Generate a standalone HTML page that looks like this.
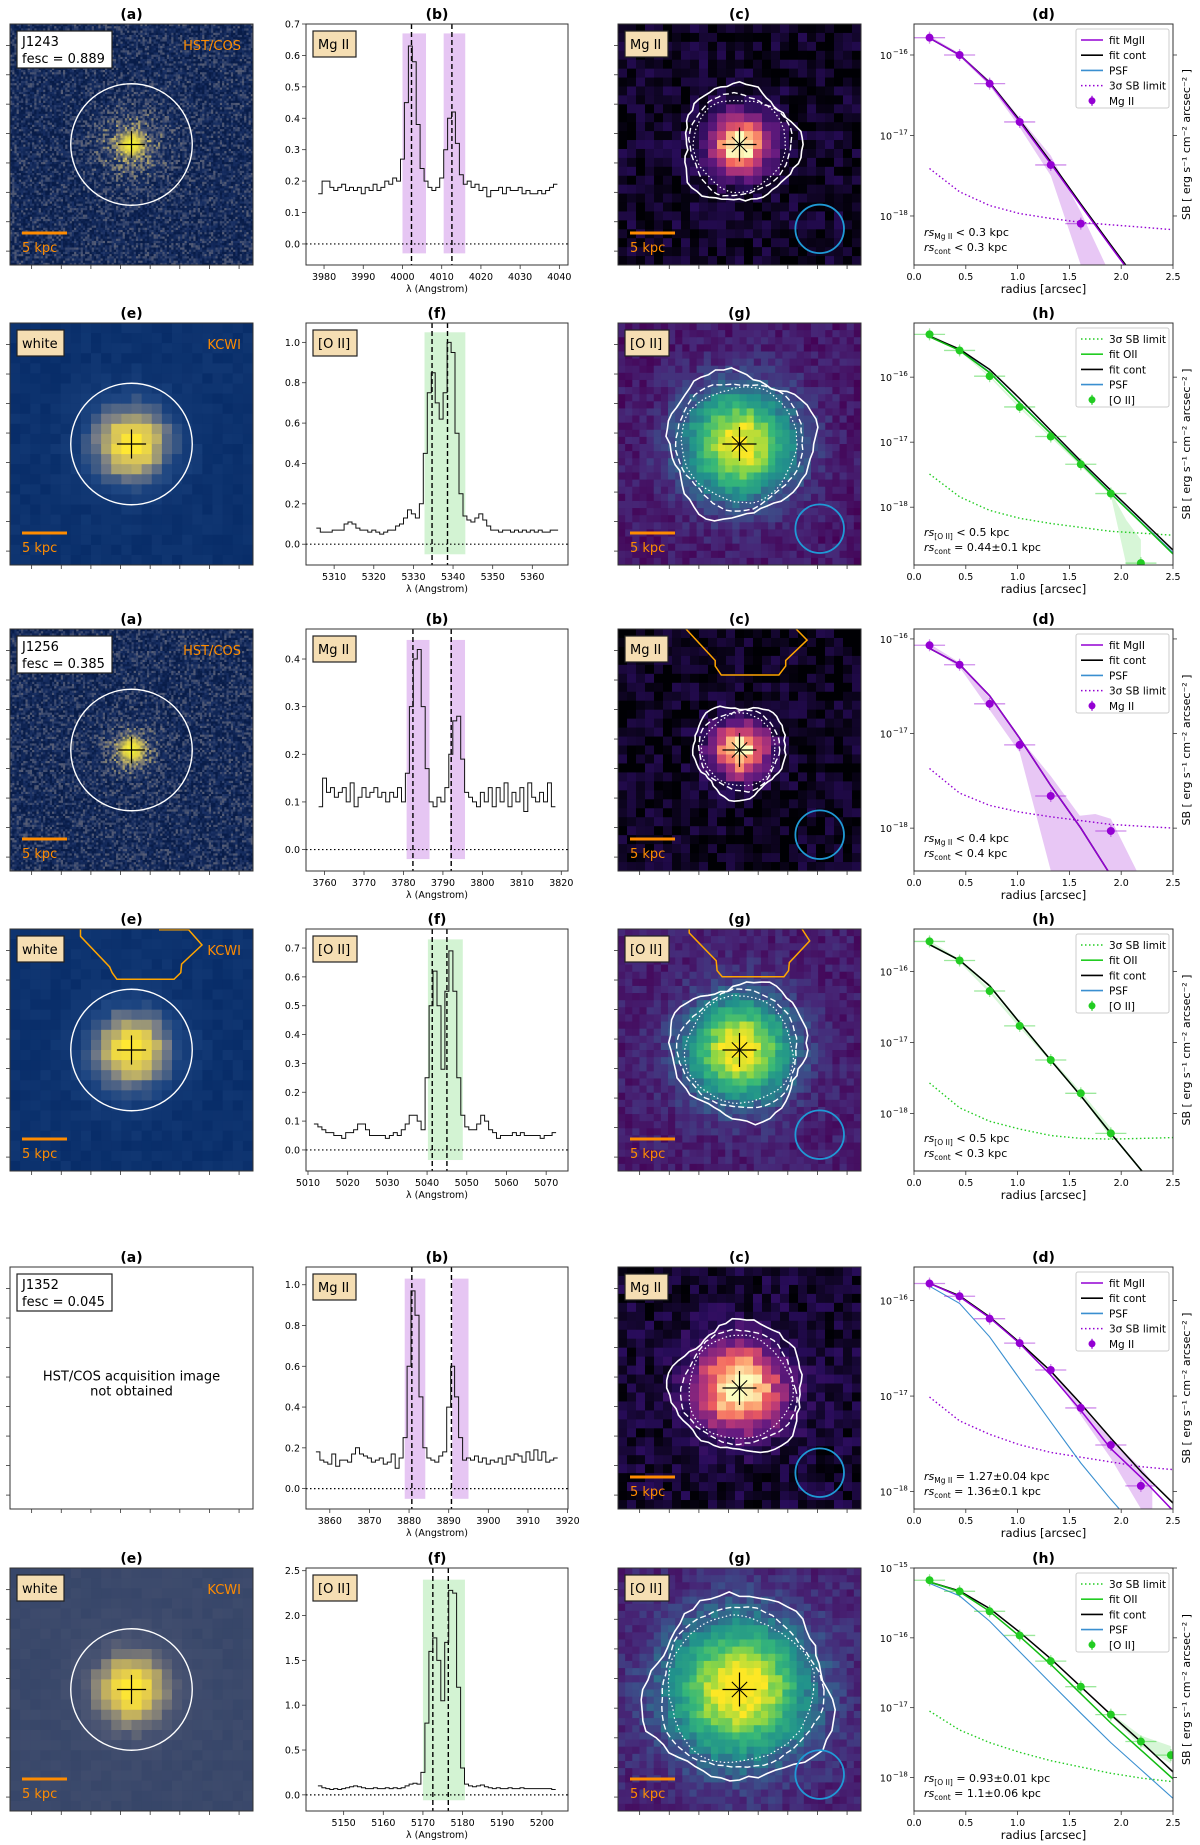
<!DOCTYPE html>
<html><head><meta charset="utf-8">
<style>
html,body{margin:0;padding:0;background:#fff;}
svg{display:block;font-family:"DejaVu Sans","Liberation Sans",sans-serif;}
</style></head>
<body>
<svg id="fig" width="1200" height="1845" viewBox="0 0 1200 1845" xmlns="http://www.w3.org/2000/svg">
<defs id="defs"></defs>
</svg>
<script>
// ---------- spectra data (flux per 1 Angstrom bin, starting wavelength) ----------
const specStart = [3979, 5306, 3759, 5012, 3857, 5144];
const flux0 = [0.16,0.20,0.20,0.18,0.17,0.18,0.19,0.17,0.18,0.17,0.18,0.16,0.18,0.17,0.19,0.17,0.18,0.20,0.19,0.21,0.20,0.27,0.45,0.63,0.58,0.38,0.24,0.20,0.18,0.17,0.18,0.21,0.30,0.40,0.42,0.32,0.22,0.19,0.20,0.18,0.19,0.17,0.18,0.15,0.17,0.17,0.18,0.16,0.18,0.17,0.17,0.18,0.16,0.17,0.16,0.16,0.17,0.16,0.17,0.18,0.19];
const flux1 = [0.08,0.06,0.06,0.06,0.07,0.07,0.07,0.10,0.11,0.10,0.08,0.07,0.07,0.06,0.07,0.06,0.05,0.06,0.07,0.07,0.09,0.10,0.13,0.17,0.15,0.13,0.20,0.45,0.75,0.85,0.70,0.62,0.75,1.00,0.95,0.55,0.25,0.14,0.12,0.11,0.13,0.15,0.12,0.09,0.07,0.07,0.06,0.07,0.07,0.06,0.07,0.06,0.07,0.06,0.07,0.06,0.07,0.06,0.06,0.07,0.07];
const flux2 = [0.09,0.15,0.12,0.13,0.11,0.12,0.13,0.10,0.14,0.09,0.11,0.13,0.11,0.12,0.13,0.11,0.12,0.10,0.12,0.11,0.13,0.10,0.16,0.30,0.40,0.42,0.30,0.17,0.10,0.09,0.11,0.10,0.13,0.20,0.27,0.28,0.19,0.12,0.11,0.10,0.09,0.12,0.10,0.13,0.09,0.13,0.10,0.14,0.09,0.12,0.10,0.13,0.08,0.14,0.11,0.10,0.12,0.10,0.14,0.09];
const flux3 = [0.09,0.08,0.07,0.06,0.06,0.05,0.05,0.04,0.06,0.06,0.07,0.09,0.09,0.07,0.05,0.05,0.05,0.05,0.04,0.05,0.06,0.05,0.07,0.09,0.12,0.12,0.10,0.07,0.25,0.50,0.62,0.50,0.28,0.55,0.69,0.55,0.25,0.12,0.08,0.07,0.07,0.09,0.12,0.10,0.07,0.06,0.04,0.05,0.05,0.05,0.06,0.05,0.06,0.05,0.05,0.05,0.05,0.04,0.05,0.05,0.06];
const flux4 = [0.18,0.14,0.13,0.12,0.17,0.11,0.14,0.14,0.13,0.17,0.20,0.17,0.16,0.15,0.13,0.14,0.15,0.12,0.13,0.17,0.10,0.15,0.25,0.60,0.97,0.85,0.45,0.20,0.15,0.14,0.13,0.16,0.18,0.40,0.60,0.45,0.25,0.14,0.15,0.14,0.16,0.13,0.15,0.12,0.14,0.13,0.15,0.12,0.16,0.14,0.17,0.16,0.13,0.18,0.14,0.19,0.14,0.18,0.13,0.14,0.15];
const flux5 = [0.10,0.08,0.07,0.06,0.07,0.06,0.07,0.08,0.09,0.10,0.09,0.08,0.07,0.07,0.08,0.07,0.07,0.08,0.07,0.08,0.07,0.08,0.10,0.12,0.13,0.12,0.25,0.80,1.60,1.75,1.50,1.05,1.70,2.28,2.25,1.20,0.30,0.12,0.10,0.09,0.10,0.11,0.09,0.08,0.07,0.08,0.07,0.07,0.08,0.07,0.07,0.08,0.07,0.07,0.07,0.07,0.07,0.07,0.07,0.06];
const fluxes = [flux0, flux1, flux2, flux3, flux4, flux5];
const lineCenters = [[4002.3,4012.6],[5334.7,5338.6],[3782.4,3792.1],[5041.3,5045.0],[3880.7,3890.7],[5172.5,5176.4]];
const shadeWin = [[[4000,4006],[4010.5,4016]],[[5332.8,5343.1]],[[3780.8,3786.6],[3791.8,3795.6]],[[5040.2,5049.0]],[[3878.9,3884.1],[3890.9,3895.0]],[[5170,5180.6]]];
const shadeY = [[-0.03,0.67],[-0.05,1.05],[-0.02,0.44],[-0.035,0.73],[-0.05,1.03],[-0.06,2.4]];
const specXRange = [[3975.4,4042.2],[5302.9,5369],[3755.3,3821.7],[5009.5,5075.5],[3854,3920.1],[5140.5,5206.6]];
const specYRange = [[-0.067,0.7],[-0.103,1.096],[-0.045,0.463],[-0.073,0.766],[-0.10,1.087],[-0.18,2.53]];
const specXTicks = [[3980,3990,4000,4010,4020,4030,4040],[5310,5320,5330,5340,5350,5360],[3760,3770,3780,3790,3800,3810,3820],[5010,5020,5030,5040,5050,5060,5070],[3860,3870,3880,3890,3900,3910,3920],[5150,5160,5170,5180,5190,5200]];
const specYTicks = [[0,0.1,0.2,0.3,0.4,0.5,0.6,0.7],[0,0.2,0.4,0.6,0.8,1.0],[0,0.1,0.2,0.3,0.4],[0,0.1,0.2,0.3,0.4,0.5,0.6,0.7],[0,0.2,0.4,0.6,0.8,1.0],[0,0.5,1.0,1.5,2.0,2.5]];

// ---------- surface-brightness profile data (log10 SB) ----------
const sbR = [0.15,0.44,0.73,1.02,1.32,1.61,1.90,2.19,2.48];
const sbPts0 = [-15.785,-16.0,-16.356,-16.832,-17.366,-18.095,null,null,null];
const sbPts1 = [-15.342,-15.589,-15.985,-16.458,-16.913,-17.34,-17.79,-18.86,null];
const sbPts2 = [-16.067,-16.273,-16.686,-17.12,-17.66,null,-18.03,null,null];
const sbPts3 = [-15.575,-15.844,-16.274,-16.765,-17.246,-17.715,-18.28,null,null];
const sbPts4 = [-15.822,-15.955,-16.19,-16.446,-16.727,-17.124,-17.512,-17.94,null];
const sbPts5 = [-15.175,-15.334,-15.62,-15.966,-16.334,-16.70,-17.10,-17.485,-17.68];
const sbPts = [sbPts0,sbPts1,sbPts2,sbPts3,sbPts4,sbPts5];
const fitR = [0.15,0.44,0.73,1.02,1.32,1.61,1.90,2.20,2.50];
const fitLine0 = [-15.79,-16.0,-16.35,-16.83,-17.35,-17.87,-18.38,-18.90,-19.4];
const fitLine1 = [-15.38,-15.59,-15.93,-16.40,-16.87,-17.33,-17.79,-18.25,-18.72];
const fitLine2 = [-16.1,-16.27,-16.6,-17.05,-17.55,-18.0,-18.5,-19.0,-19.5];
const fitLine3 = [-15.62,-15.84,-16.2,-16.72,-17.25,-17.75,-18.28,-18.81,-19.3];
const fitLine4 = [-15.82,-15.96,-16.18,-16.45,-16.78,-17.15,-17.55,-17.86,-18.2];
const fitLine5 = [-15.2,-15.34,-15.62,-15.98,-16.38,-16.8,-17.22,-17.62,-18.02];
const fitLines = [fitLine0,fitLine1,fitLine2,fitLine3,fitLine4,fitLine5];
const fitCont0 = [-15.79,-16.0,-16.34,-16.81,-17.33,-17.85,-18.36,-18.88,-19.4];
const fitCont1 = [-15.37,-15.57,-15.88,-16.33,-16.82,-17.29,-17.74,-18.2,-18.66];
const fitCont2 = [-16.1,-16.27,-16.6,-17.05,-17.55,-18.0,-18.5,-19.0,-19.5];
const fitCont3 = [-15.62,-15.84,-16.2,-16.72,-17.25,-17.75,-18.28,-18.81,-19.3];
const fitCont4 = [-15.82,-15.95,-16.17,-16.44,-16.74,-17.08,-17.44,-17.8,-18.12];
const fitCont5 = [-15.2,-15.33,-15.58,-15.92,-16.3,-16.7,-17.1,-17.5,-17.92];
const fitConts = [fitCont0,fitCont1,fitCont2,fitCont3,fitCont4,fitCont5];
const psf0 = [-15.79,-16.0,-16.34,-16.81,-17.33,-17.85,-18.36,-18.88,-19.4];
const psf1 = [-15.38,-15.58,-15.92,-16.39,-16.86,-17.32,-17.78,-18.24,-18.7];
const psf2 = [-16.1,-16.27,-16.6,-17.05,-17.55,-18.0,-18.5,-19.0,-19.5];
const psf3 = [-15.62,-15.84,-16.2,-16.72,-17.25,-17.75,-18.28,-18.81,-19.3];
const psf4 = [-15.85,-16.03,-16.38,-16.82,-17.27,-17.70,-18.08,-18.45,-18.8];
const psf5 = [-15.22,-15.40,-15.76,-16.20,-16.65,-17.08,-17.5,-17.9,-18.3];
const psfs = [psf0,psf1,psf2,psf3,psf4,psf5];
const sbLim0 = [-17.41,-17.70,-17.87,-17.97,-18.03,-18.08,-18.11,-18.14,-18.17];
const sbLim1 = [-17.49,-17.84,-18.05,-18.17,-18.25,-18.31,-18.37,-18.40,-18.43];
const sbLim2 = [-17.37,-17.63,-17.76,-17.83,-17.88,-17.92,-17.96,-17.98,-18.0];
const sbLim3 = [-17.57,-17.92,-18.11,-18.22,-18.31,-18.35,-18.36,-18.35,-18.34];
const sbLim4 = [-17.01,-17.26,-17.40,-17.51,-17.59,-17.64,-17.69,-17.74,-17.77];
const sbLim5 = [-17.05,-17.32,-17.50,-17.64,-17.76,-17.85,-17.94,-18.01,-18.06];
const sbLims = [sbLim0,sbLim1,sbLim2,sbLim3,sbLim4,sbLim5];
const bandR = [[0.15,0.44,0.73,1.02,1.32,1.61,1.85],[0.15,0.44,0.73,1.02,1.32,1.61,1.90,2.05,2.19],[0.15,0.44,0.73,1.02,1.32,1.6,1.75,1.9,2.15],[0.15,0.44,0.73,1.02,1.32,1.61,1.90],[1.32,1.61,1.90,2.19,2.3],[1.90,2.19,2.48]];
const bandHi = [[-15.76,-15.98,-16.32,-16.78,-17.25,-17.95,-18.61],[-15.33,-15.58,-15.97,-16.44,-16.9,-17.32,-17.77,-18.2,-18.5],[-16.05,-16.25,-16.62,-17.05,-17.45,-17.87,-17.85,-17.9,-18.45],[-15.56,-15.83,-16.25,-16.74,-17.22,-17.69,-18.2],[-16.72,-17.1,-17.45,-17.75,-17.9],[-17.08,-17.4,-17.55]];
const bandLo = [[-15.80,-16.02,-16.38,-16.90,-17.50,-18.61,-18.61],[-15.36,-15.60,-16.0,-16.48,-16.93,-17.37,-17.82,-18.89,-18.89],[-16.1,-16.3,-16.75,-17.2,-18.45,-18.45,-18.45,-18.45,-18.45],[-15.6,-15.87,-16.3,-16.79,-17.27,-17.74,-18.35],[-16.75,-17.2,-17.65,-18.18,-18.18],[-17.12,-17.55,-17.8]];
const sbYRange = [[-18.609,-15.615],[-18.889,-15.167],[-18.453,-15.895],[-18.81,-15.40],[-18.182,-15.649],[-18.48,-15.0]];
const sbYTicks = [[-16,-17,-18],[-16,-17,-18],[-16,-17,-18],[-16,-17,-18],[-16,-17,-18],[-15,-16,-17,-18]];
const sbXTicks = [0,0.5,1.0,1.5,2.0,2.5];

// ---------- layout ----------
const NS='http://www.w3.org/2000/svg';
const svg=document.getElementById('fig');
const defs=document.getElementById('defs');
const COLS={a:[10,253],b:[306,568],c:[618,861],d:[914,1173]};
const ROWS=[[24,265],[323,565],[629,871],[929,1171],[1267,1509],[1568,1811]];
const PURPLE='#9400d3', GREEN='#22cc22', PSFC='#3a8fd0', ORANGE='#ff8c00';

function mk(tag, attrs, parent){const e=document.createElementNS(NS,tag); for(const k in attrs) e.setAttribute(k,attrs[k]); (parent||svg).appendChild(e); return e;}
function nm(e, name, inter){
  
  
  return e;
}
function txt(str, attrs, parent){const t=mk('text',attrs,parent); t.textContent=str; return t;}

function title(label, col, row){
  const [x0,x1]=COLS[col]; const y0=ROWS[row][0];
  const t=txt('('+label+')',{x:(x0+x1)/2,y:y0-5,'text-anchor':'middle','font-size':14,'font-weight':'bold'});
  nm(t,'panel-title-'+label+'-row'+(row+1),false);
}

function hash(i,j,s){const v=Math.sin(i*127.1+j*311.7+s*74.7)*43758.5453; return v-Math.floor(v);}
function lerpC(stops,t){t=Math.max(0,Math.min(1,t)); for(let k=1;k<stops.length;k++){ if(t<=stops[k][0]){const a=stops[k-1],b=stops[k]; const f=(t-a[0])/(b[0]-a[0]); const c=[0,1,2].map(m=>Math.round(a[1][m]+(b[1][m]-a[1][m])*f)); return 'rgb('+c.join(',')+')';}} const l=stops[stops.length-1][1]; return 'rgb('+l.join(',')+')';}
const MAGMA=[[0,[0,0,4]],[0.2,[40,12,90]],[0.4,[100,26,128]],[0.6,[183,55,121]],[0.75,[241,96,93]],[0.88,[254,175,119]],[1,[252,253,191]]];
const VIRIDIS=[[0,[68,1,84]],[0.15,[70,40,120]],[0.3,[59,82,139]],[0.5,[33,145,140]],[0.7,[53,183,121]],[0.85,[144,215,67]],[1,[253,231,37]]];
const HSTMAP=[[0,[8,28,72]],[0.3,[25,48,100]],[0.55,[95,100,120]],[0.8,[190,175,100]],[1,[255,240,40]]];
const KCWIMAP=[[0,[8,45,105]],[0.3,[30,70,130]],[0.55,[120,125,135]],[0.8,[215,195,90]],[1,[255,232,50]]];
const WHITE2MAP=[[0,[55,70,105]],[0.3,[75,85,115]],[0.55,[140,135,120]],[0.8,[225,200,80]],[1,[255,232,50]]];

function panelBox(col,row){const [x0,x1]=COLS[col]; const [y0,y1]=ROWS[row]; return {x0,x1,y0,y1,w:x1-x0,h:y1-y0};}

function gridImage(g,b,n,cmap,sigma,amp,noise,base,seed){
  const cw=b.w/n, ch=b.h/n;
  for(let i=0;i<n;i++)for(let j=0;j<n;j++){
    const dx=(i+0.5)/n-0.5, dy=(j+0.5)/n-0.5;
    const gv=amp*Math.exp(-(dx*dx+dy*dy)/(2*sigma*sigma));
    const v=base+gv+noise*(hash(i,j,seed)-0.5);
    mk('rect',{x:(b.x0+i*cw).toFixed(2),y:(b.y0+j*ch).toFixed(2),width:(cw+0.6).toFixed(2),height:(ch+0.6).toFixed(2),fill:lerpC(cmap,v)},g);
  }
}
function imageTicks(g,b){
  for(let k=1;k<=8;k++){
    const x=b.x0+k*b.w/8.2-8; mk('line',{x1:x,y1:b.y1,x2:x,y2:b.y1+4,stroke:'#333','stroke-width':0.8},g);
    const y=b.y0+k*b.h/8.2-8; mk('line',{x1:b.x0,y1:y,x2:b.x0-4,y2:y,stroke:'#333','stroke-width':0.8},g);
  }
  mk('rect',{x:b.x0,y:b.y0,width:b.w,height:b.h,fill:'none',stroke:'#333','stroke-width':1},g);
}
function labelBox(g,b,str,wid,white){
  const r=mk('rect',{x:b.x0+7,y:b.y0+7,width:wid,height:26,fill:white?'#fff':'#f5deb3',stroke:'#222','stroke-width':1.2},g);
  nm(r,'label-box',false);
  const t=txt(str,{x:b.x0+12,y:b.y0+25,'font-size':13},g);
  nm(t,'label-text',false);
}
function scaleBar(g,b,len){
  const l=mk('line',{x1:b.x0+12,y1:b.y1-32,x2:b.x0+12+len,y2:b.y1-32,stroke:ORANGE,'stroke-width':3},g);
  nm(l,'scale-bar',false);
  const t=txt('5 kpc',{x:b.x0+12,y:b.y1-13,'font-size':13,fill:ORANGE},g);
  nm(t,'scale-bar-label',false);
}
function cross(g,cx,cy,s,star){
  mk('line',{x1:cx-s,y1:cy,x2:cx+s,y2:cy,stroke:'#000','stroke-width':1.2},g);
  mk('line',{x1:cx,y1:cy-s,x2:cx,y2:cy+s,stroke:'#000','stroke-width':1.2},g);
  if(star){const d=s*0.45; mk('line',{x1:cx-d,y1:cy-d,x2:cx+d,y2:cy+d,stroke:'#000','stroke-width':1},g); mk('line',{x1:cx-d,y1:cy+d,x2:cx+d,y2:cy-d,stroke:'#000','stroke-width':1},g);}
}
function wobble(cx,cy,r,amp,seed,nPts){
  let p=[]; for(let k=0;k<nPts;k++){const th=2*Math.PI*k/nPts; const rr=r*(1+amp*(0.5*Math.sin(3*th+seed)+0.3*Math.sin(5*th+2*seed)+0.35*(hash(k,seed,3)-0.5))); p.push((cx+rr*Math.cos(th)).toFixed(1)+','+(cy+rr*Math.sin(th)).toFixed(1));} return p.join(' ');
}
function contours(g,b,rf,seed){
  const cx=b.x0+b.w*0.5, cy=b.y0+b.h*0.5, r=b.w*rf;
  const c1=mk('polygon',{points:wobble(cx,cy,r,0.14,seed,60),fill:'none',stroke:'#fff','stroke-width':1.6},g); nm(c1,'contour-outer',false);
  const c2=mk('polygon',{points:wobble(cx,cy,r*0.87,0.08,seed+1,60),fill:'none',stroke:'#fff','stroke-width':1.4,'stroke-dasharray':'6,3'},g); nm(c2,'contour-mid',false);
  const c3=mk('polygon',{points:wobble(cx,cy,r*0.79,0.06,seed+2,60),fill:'none',stroke:'#fff','stroke-width':1.2,'stroke-dasharray':'1.5,2.5'},g); nm(c3,'contour-inner',false);
}
function psfCircle(g,b){
  const c=mk('circle',{cx:b.x0+b.w*0.83,cy:b.y0+b.h*0.85,r:b.w*0.1,fill:'none',stroke:'#1f9ad6','stroke-width':1.8},g);
  nm(c,'psf-circle',false);
}
function slitPoly(g,b,pts){
  const p=mk('polyline',{points:pts.map(q=>(b.x0+q[0]*b.w).toFixed(1)+','+(b.y0+q[1]*b.h).toFixed(1)).join(' '),fill:'none',stroke:'#ffa500','stroke-width':1.5},g);
  nm(p,'aperture-outline',false);
}
function clipFor(b,id){const cp=mk('clipPath',{id:id},defs); mk('rect',{x:b.x0,y:b.y0,width:b.w,height:b.h},cp); return 'url(#'+id+')';}

function hstPanel(row,target,fesc,seed,halo){
  const b=panelBox('a',row); const g=nm(mk('g',{}),'hst-image-panel-row'+(row+1),false);
  const ig=mk('g',{'clip-path':clipFor(b,'clipA'+row)},g);
  gridImage(ig,b,110,HSTMAP,halo,0.45,0.6,0.22,seed);
  mk('circle',{cx:b.x0+b.w/2,cy:b.y0+b.h/2,r:b.w*0.07,fill:'url(#glow)'},ig);
  const ap=mk('circle',{cx:b.x0+b.w/2,cy:b.y0+b.h/2,r:b.w*0.25,fill:'none',stroke:'#fff','stroke-width':1.4},g); nm(ap,'aperture-circle',false);
  cross(g,b.x0+b.w/2,b.y0+b.h/2,b.w*0.055,false);
  const r=mk('rect',{x:b.x0+7,y:b.y0+7,width:95,height:37,fill:'#fff',stroke:'#222','stroke-width':1.2},g); nm(r,'target-box',false);
  const t1=txt(target,{x:b.x0+12,y:b.y0+22,'font-size':13},g); nm(t1,'target-name',false);
  const t2=txt('fesc = '+fesc,{x:b.x0+12,y:b.y0+39,'font-size':13},g); nm(t2,'fesc-value',false);
  const t3=txt('HST/COS',{x:b.x1-12,y:b.y0+26,'font-size':13,fill:ORANGE,'text-anchor':'end'},g); nm(t3,'instrument-label',false);
  scaleBar(g,b,45);
  imageTicks(g,b);
}
function blankPanel(row,target,fesc){
  const b=panelBox('a',row); const g=nm(mk('g',{}),'missing-image-panel',false);
  mk('rect',{x:b.x0,y:b.y0,width:b.w,height:b.h,fill:'#fff'},g);
  const r=mk('rect',{x:b.x0+7,y:b.y0+7,width:95,height:37,fill:'#fff',stroke:'#222','stroke-width':1.2},g); nm(r,'target-box',false);
  const t1=txt(target,{x:b.x0+12,y:b.y0+22,'font-size':13},g); nm(t1,'target-name',false);
  const t2=txt('fesc = '+fesc,{x:b.x0+12,y:b.y0+39,'font-size':13},g); nm(t2,'fesc-value',false);
  const m1=txt('HST/COS acquisition image',{x:b.x0+b.w/2,y:b.y0+b.h*0.47,'font-size':13,'text-anchor':'middle'},g); nm(m1,'missing-note',false);
  const m2=txt('not obtained',{x:b.x0+b.w/2,y:b.y0+b.h*0.47+15,'font-size':13,'text-anchor':'middle'},g); nm(m2,'missing-note-2',false);
  imageTicks(g,b);
}
function kcwiPanel(row,cmap,seed,slit){
  const b=panelBox('a',row); const g=nm(mk('g',{}),'kcwi-white-panel-row'+(row+1),false);
  const ig=mk('g',{'clip-path':clipFor(b,'clipE'+row)},g);
  gridImage(ig,b,24,cmap,0.12,0.95,0.12,0.05,seed);
  if(slit) slitPoly(g,b,slit);
  const ap=mk('circle',{cx:b.x0+b.w/2,cy:b.y0+b.h/2,r:b.w*0.25,fill:'none',stroke:'#fff','stroke-width':1.4},g); nm(ap,'aperture-circle',false);
  cross(g,b.x0+b.w/2,b.y0+b.h/2,b.w*0.06,false);
  labelBox(g,b,'white',47,false);
  const t3=txt('KCWI',{x:b.x1-12,y:b.y0+26,'font-size':13,fill:ORANGE,'text-anchor':'end'},g); nm(t3,'instrument-label',false);
  scaleBar(g,b,45);
  imageTicks(g,b);
}
function mapPanel(row,kind,sigma,base,rf,seed,slit){
  const b=panelBox('c',row); const g=nm(mk('g',{}),(kind==='mg'?'mgii-map':'oii-map')+'-row'+(row+1),false);
  const ig=mk('g',{'clip-path':clipFor(b,'clipC'+row)},g);
  if(kind==='mg') gridImage(ig,b,27,MAGMA,sigma,1.0,0.22,base,seed);
  else gridImage(ig,b,34,VIRIDIS,sigma,0.95,0.16,base,seed);
  contours(g,b,rf,seed);
  if(slit) slitPoly(g,b,slit);
  psfCircle(g,b);
  cross(g,b.x0+b.w/2,b.y0+b.h/2,b.w*0.07,true);
  labelBox(g,b,kind==='mg'?'Mg II':'[O II]',kind==='mg'?43:44,false);
  scaleBar(g,b,45);
  imageTicks(g,b);
}

function specPanel(row){
  const b=panelBox('b',row); const isMg=(row%2===0);
  const [xa,xb]=specXRange[row], [ya,yb]=specYRange[row];
  const X=v=>b.x0+(v-xa)/(xb-xa)*b.w, Y=v=>b.y1-(v-ya)/(yb-ya)*b.h;
  const g=nm(mk('g',{}),'spectrum-panel-row'+(row+1),false);
  const cg=mk('g',{'clip-path':clipFor(b,'clipB'+row)},g);
  shadeWin[row].forEach((w,k)=>{const r=mk('rect',{x:X(w[0]),y:Y(shadeY[row][1]),width:X(w[1])-X(w[0]),height:Y(shadeY[row][0])-Y(shadeY[row][1]),fill:isMg?'#e6c6f3':'#d3f3d3'},cg); nm(r,'integration-window-'+(k+1),false);});
  const z=mk('line',{x1:b.x0,y1:Y(0),x2:b.x1,y2:Y(0),stroke:'#000','stroke-width':1.2,'stroke-dasharray':'1.5,2.5'},cg); nm(z,'zero-line',false);
  lineCenters[row].forEach((c,k)=>{const l=mk('line',{x1:X(c),y1:b.y0,x2:X(c),y2:b.y1,stroke:'#000','stroke-width':1.4,'stroke-dasharray':'5,3'},cg); nm(l,'line-center-'+(k+1),false);});
  const f=fluxes[row]; let d='';
  f.forEach((v,i)=>{const w=specStart[row]+i; const xl=X(w-0.5), xr=X(w+0.5), y=Y(v); d+=(i===0?'M':'L')+xl.toFixed(1)+','+y.toFixed(1)+'L'+xr.toFixed(1)+','+y.toFixed(1);});
  const sp=mk('path',{d:d,fill:'none',stroke:'#111','stroke-width':1},cg); nm(sp,'spectrum-line',false);
  mk('rect',{x:b.x0,y:b.y0,width:b.w,height:b.h,fill:'none',stroke:'#333','stroke-width':1},g);
  specXTicks[row].forEach(t=>{const x=X(t); mk('line',{x1:x,y1:b.y1,x2:x,y2:b.y1+4,stroke:'#333','stroke-width':0.8},g); const tl=txt(String(t),{x:x,y:b.y1+15,'font-size':9.5,'text-anchor':'middle'},g); nm(tl,'x-tick-label',false);});
  specYTicks[row].forEach(t=>{const y=Y(t); mk('line',{x1:b.x0,y1:y,x2:b.x0-4,y2:y,stroke:'#333','stroke-width':0.8},g); const tl=txt(t.toFixed(1),{x:b.x0-6,y:y+3.5,'font-size':9.5,'text-anchor':'end'},g); nm(tl,'y-tick-label',false);});
  const xl=txt('λ (Angstrom)',{x:(b.x0+b.x1)/2,y:b.y1+27,'font-size':9.5,'text-anchor':'middle'},g); nm(xl,'x-axis-title',false);
  labelBox(g,b,isMg?'Mg II':'[O II]',isMg?43:44,false);
}

function sbPanel(row){
  const b=panelBox('d',row); const isMg=(row%2===0); const col=isMg?PURPLE:GREEN;
  const [ya,yb]=sbYRange[row];
  const X=v=>b.x0+v/2.5*b.w, Y=v=>b.y1-(v-ya)/(yb-ya)*b.h;
  const g=nm(mk('g',{}),'sb-profile-panel-row'+(row+1),false);
  const cg=mk('g',{'clip-path':clipFor(b,'clipD'+row)},g);
  const path=(rs,vs)=>{let d='';let first=true; vs.forEach((v,i)=>{if(v===null)return; d+=(first?'M':'L')+X(rs[i]).toFixed(1)+','+Y(v).toFixed(1); first=false;}); return d;};
  const br=bandR[row]; let bd='M'+br.map((r,i)=>X(r).toFixed(1)+','+Y(bandHi[row][i]).toFixed(1)).join('L');
  for(let i=br.length-1;i>=0;i--) bd+='L'+X(br[i]).toFixed(1)+','+Y(bandLo[row][i]).toFixed(1);
  const band=mk('path',{d:bd+'Z',fill:col,'fill-opacity':isMg?0.22:0.18,stroke:'none'},cg); nm(band,'uncertainty-band',false);
  const lim=mk('path',{d:path(fitR,sbLims[row]),fill:'none',stroke:col,'stroke-width':1.4,'stroke-dasharray':'1.5,2.5'},cg); nm(lim,'sb-limit-line',false);
  const ps=mk('path',{d:path(fitR,psfs[row]),fill:'none',stroke:PSFC,'stroke-width':1.1},cg); nm(ps,'psf-line',false);
  const contOnTop=(row===3);
  let ct;
  if(!contOnTop){ ct=mk('path',{d:path(fitR,fitConts[row]),fill:'none',stroke:'#000','stroke-width':1.5},cg); nm(ct,'fit-cont-line',false); }
  const fl=mk('path',{d:path(fitR,fitLines[row]),fill:'none',stroke:isMg?PURPLE:'#11bb11','stroke-width':1.5},cg); nm(fl,'fit-line',false);
  if(contOnTop){ ct=mk('path',{d:path(fitR,fitConts[row]),fill:'none',stroke:'#000','stroke-width':1.5},cg); nm(ct,'fit-cont-line',false); }
  sbPts[row].forEach((v,i)=>{ if(v===null) return; const x=X(sbR[i]), y=Y(v);
    mk('line',{x1:X(sbR[i]-0.15),y1:y,x2:X(sbR[i]+0.15),y2:y,stroke:col,'stroke-opacity':0.45,'stroke-width':1.3},cg);
    mk('line',{x1:x,y1:y-6,x2:x,y2:y+6,stroke:col,'stroke-opacity':0.45,'stroke-width':1.3},cg);
    const c=mk('circle',{cx:x,cy:y,r:4,fill:col},cg); nm(c,'data-point',false);});
  mk('rect',{x:b.x0,y:b.y0,width:b.w,height:b.h,fill:'none',stroke:'#333','stroke-width':1},g);
  sbXTicks.forEach(t=>{const x=X(t); mk('line',{x1:x,y1:b.y1,x2:x,y2:b.y1+4,stroke:'#333','stroke-width':0.8},g); const tl=txt(t.toFixed(1),{x:x,y:b.y1+15,'font-size':9.5,'text-anchor':'middle'},g); nm(tl,'x-tick-label',false);});
  sbYTicks[row].forEach(t=>{const y=Y(t); mk('line',{x1:b.x0,y1:y,x2:b.x0-4,y2:y,stroke:'#333','stroke-width':0.8},g); mk('line',{x1:b.x1,y1:y,x2:b.x1+4,y2:y,stroke:'#333','stroke-width':0.8},g);
    const tl=txt('10',{x:b.x0-22,y:y+4,'font-size':9.5,'text-anchor':'end'},g); nm(tl,'y-tick-label',false);
    const sup=txt('−'+Math.abs(t),{x:b.x0-21,y:y-1,'font-size':7},g); nm(sup,'y-tick-exponent',false);});
  const xl=txt('radius [arcsec]',{x:(b.x0+b.x1)/2,y:b.y1+28,'font-size':11.5,'text-anchor':'middle'},g); nm(xl,'x-axis-title',false);
  const yl=txt('SB [ erg s⁻¹ cm⁻² arcsec⁻² ]',{x:0,y:0,'font-size':11,'text-anchor':'middle',transform:'translate('+(b.x1+17)+','+((b.y0+b.y1)/2)+') rotate(-90)'},g); nm(yl,'y-axis-title',false);
  const lg=nm(mk('g',{}),'legend',false);
  g.appendChild(lg);
  const lx=b.x1-97, ly=b.y0+5;
  mk('rect',{x:lx,y:ly,width:93,height:79,fill:'#fff','fill-opacity':0.85,stroke:'#ccc','stroke-width':1,rx:2},lg);
  const ent = isMg ? [['fit MgII','line',PURPLE],['fit cont','line','#000'],['PSF','line',PSFC],['3σ SB limit','dot',PURPLE],['Mg II','pt',PURPLE]]
                   : [['3σ SB limit','dot',GREEN],['fit OII','line',GREEN],['fit cont','line','#000'],['PSF','line',PSFC],['[O II]','pt',GREEN]];
  ent.forEach((e,k)=>{const y=ly+11+k*15.2;
    const eg=nm(mk('g',{},lg),'legend-entry',false);
    if(e[1]==='pt'){mk('circle',{cx:lx+16,cy:y,r:3.5,fill:e[2]},eg); mk('line',{x1:lx+16,y1:y-5,x2:lx+16,y2:y+5,stroke:e[2],'stroke-width':1.2},eg);}
    else mk('line',{x1:lx+5,y1:y,x2:lx+27,y2:y,stroke:e[2],'stroke-width':e[1]==='dot'?1.5:1.6,'stroke-dasharray':e[1]==='dot'?'1.5,2.5':'none'},eg);
    txt(e[0],{x:lx+33,y:y+4,'font-size':10.5},eg);});
  const rsT = [[['Mg II','< 0.3 kpc'],['cont','< 0.3 kpc']],[['[O II]','< 0.5 kpc'],['cont','= 0.44±0.1 kpc']],[['Mg II','< 0.4 kpc'],['cont','< 0.4 kpc']],[['[O II]','< 0.5 kpc'],['cont','< 0.3 kpc']],[['Mg II','= 1.27±0.04 kpc'],['cont','= 1.36±0.1 kpc']],[['[O II]','= 0.93±0.01 kpc'],['cont','= 1.1±0.06 kpc']]][row];
  rsT.forEach((r,k)=>{const y=b.y1-29+k*15;
    const t=mk('text',{x:b.x0+10,y:y,'font-size':11},g); nm(t,'size-annotation',false);
    const a=document.createElementNS(NS,'tspan'); a.setAttribute('font-style','italic'); a.textContent='rs'; t.appendChild(a);
    const s=document.createElementNS(NS,'tspan'); s.setAttribute('font-size','7.5'); s.setAttribute('dy','3'); s.textContent=r[0]; t.appendChild(s);
    const v=document.createElementNS(NS,'tspan'); v.setAttribute('dy','-3'); v.textContent=' '+r[1]; t.appendChild(v);});
}

const rg=mk('radialGradient',{id:'glow'},defs);
mk('stop',{offset:'0','stop-color':'#ffff30','stop-opacity':1},rg);
mk('stop',{offset:'0.45','stop-color':'#f0e040','stop-opacity':0.85},rg);
mk('stop',{offset:'1','stop-color':'#c0b070','stop-opacity':0},rg);

const T=['a','b','c','d','e','f','g','h'];
for(let r=0;r<6;r++){
  const top=(r%2===0); const cols=['a','b','c','d'];
  cols.forEach((c,k)=>title(top?T[k]:T[k+4],c,r));
}
hstPanel(0,'J1243','0.889',1,0.09);
kcwiPanel(1,KCWIMAP,2,null);
hstPanel(2,'J1256','0.385',3,0.07);
kcwiPanel(3,KCWIMAP,4,[[0.29,0],[0.29,0.03],[0.41,0.156],[0.42,0.18],[0.44,0.208],[0.675,0.208],[0.703,0.18],[0.706,0.145],[0.79,0.066],[0.735,0.003],[0.613,0.003]]);
blankPanel(4,'J1352','0.045');
kcwiPanel(5,WHITE2MAP,6,null);
mapPanel(0,'mg',0.09,0.08,0.24,1,null);
mapPanel(1,'oii',0.16,0.08,0.3,2,null);
mapPanel(2,'mg',0.085,0.06,0.19,3,[[0.28,0],[0.4,0.13],[0.4,0.153],[0.425,0.19],[0.662,0.19],[0.69,0.153],[0.69,0.13],[0.778,0.046],[0.733,0]]);
mapPanel(3,'oii',0.15,0.1,0.28,4,[[0.293,0],[0.293,0.016],[0.404,0.131],[0.408,0.172],[0.429,0.197],[0.683,0.197],[0.702,0.172],[0.705,0.139],[0.789,0.049],[0.757,0]]);
mapPanel(4,'mg',0.13,0.1,0.27,5,null);
mapPanel(5,'oii',0.2,0.12,0.38,6,null);
for(let r=0;r<6;r++){ specPanel(r); sbPanel(r); }
</script>
</body></html>
